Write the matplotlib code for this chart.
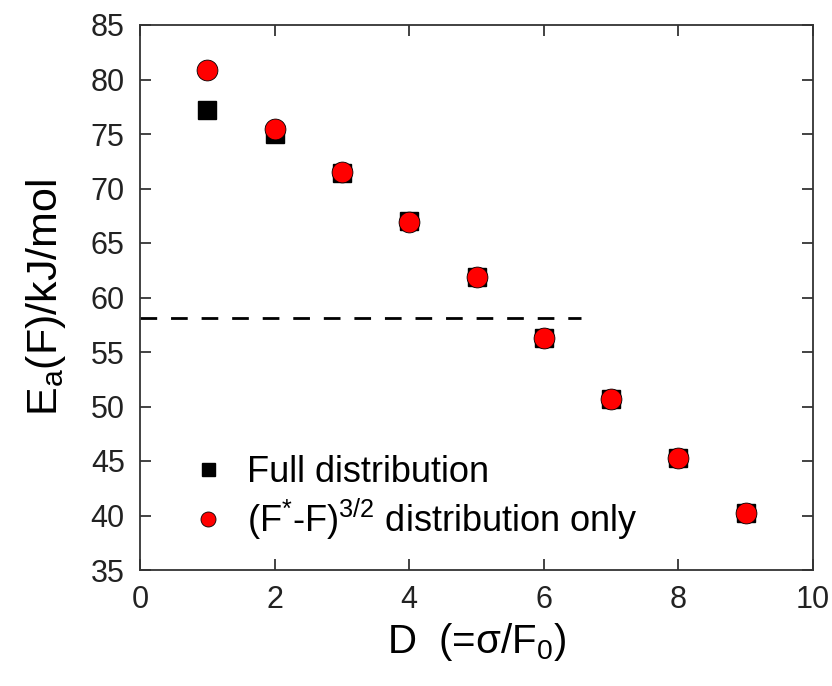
import numpy as np
import matplotlib
matplotlib.use("Agg")
from matplotlib import pyplot as plt

plt.rcParams['font.family'] = ['Liberation Sans', 'DejaVu Sans']
plt.rcParams['mathtext.fontset'] = 'custom'
plt.rcParams['mathtext.rm'] = 'Liberation Sans'
plt.rcParams['mathtext.it'] = 'Liberation Sans'

# values
D = [1, 2, 3, 4, 5, 6, 7, 8, 9]
full_dist = [77.2, 75.0, 71.4, 67.0, 61.9, 56.3, 50.7, 45.3, 40.2]
f32_dist = [80.9, 75.5, 71.5, 66.9, 61.9, 56.3, 50.7, 45.3, 40.2]
dash_level = 58.1
dash_end = 6.55

fig = plt.figure(figsize=(8.32, 6.86), dpi=100)
ax = fig.add_axes([140/832, 1 - 570/686, 673/832, 545/686])

ax.plot(D, full_dist, 's', color='black', markersize=13, label='Full distribution')
ax.plot(D, f32_dist, 'o', color='red', markeredgecolor='black', markeredgewidth=0.6,
        markersize=15, label=r'(F$^{*}$-F)$^{3/2}$ distribution only')
ax.plot([0, dash_end], [dash_level, dash_level], '--', color='black', linewidth=2,
        dashes=(6, 5))

ax.set_xlim(0, 10)
ax.set_ylim(35, 85)
ax.set_xticks(np.arange(0, 11, 2))
ax.set_yticks(np.arange(35, 86, 5))
ax.tick_params(direction='in', length=8, width=1.2, labelsize=22,
               top=True, right=True, pad=11, colors='#222222', labelcolor='#222222')
for s in ax.spines.values():
    s.set_linewidth(1.3)
    s.set_color('#333333')

ax.set_xlabel(r'D  (=$\mathregular{\sigma}$/F$_0$)', fontsize=29, labelpad=4)
ax.set_ylabel(r'E$_\mathregular{a}$(F)/kJ/mol', fontsize=31, labelpad=16)

leg = ax.legend(loc='lower left', bbox_to_anchor=(0.02, -0.008), frameon=False,
                fontsize=26, markerscale=0.72, handletextpad=0.5, labelspacing=0.2,
                handlelength=1.2)

fig.savefig('out.png', dpi=100)
